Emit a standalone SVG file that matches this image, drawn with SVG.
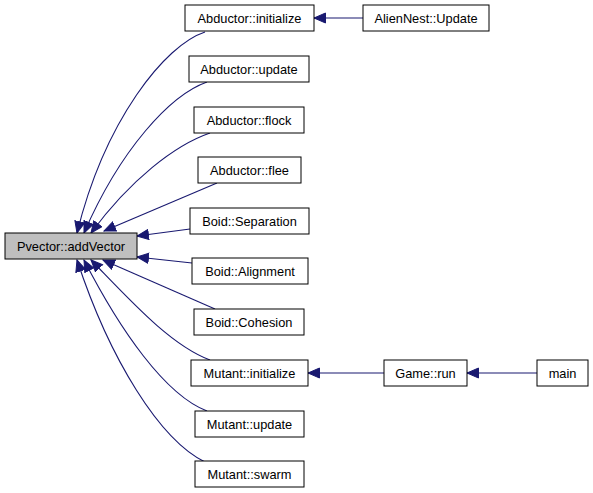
<svg xmlns="http://www.w3.org/2000/svg" width="593" height="493" viewBox="0 0 593 493">
<style>
.n rect{fill:#ffffff;stroke:#000000;stroke-width:1}
.n text{font-family:"Liberation Sans",Arial,sans-serif;font-size:12.8px;fill:#000000;text-anchor:middle}
#pvector rect{fill:#bfbfbf}
.e path{fill:none;stroke:#191970;stroke-width:1.1;marker-end:url(#ah)}
</style>
<defs>
<marker id="ah" markerWidth="13" markerHeight="12" refX="12" refY="6" orient="auto" markerUnits="userSpaceOnUse">
<path d="M0.5,1 L12,6 L0.5,11 Z" fill="#191970" stroke="#191970" stroke-width="1"/>
</marker>
</defs>
<rect width="593" height="493" fill="#ffffff"/>
<g id="edges" class="e">
<path d="M205,32 C165,45 105,120 77,233"/>
<path d="M207,82 C170,95 120,150 84,233"/>
<path d="M210,133 C175,145 130,180 91,233"/>
<path d="M217,183 L104,231"/>
<path d="M190,229 L137,236"/>
<path d="M192,263 L137,257"/>
<path d="M215,309 L103,260"/>
<path d="M210,360 C170,345 130,300 91,260"/>
<path d="M207,411 C165,395 120,330 84,260"/>
<path d="M205,462 C160,440 110,360 77,260"/>
<path d="M363,18 L314,18"/>
<path d="M384,373 L308,373"/>
<path d="M537,373 L467,373"/>
</g>
<g id="pvector" class="n"><rect x="5" y="233" width="132" height="26"/><text x="71" y="251">Pvector::addVector</text></g>
<g id="abductor_initialize" class="n"><rect x="185" y="5" width="129" height="26"/><text x="249.5" y="23">Abductor::initialize</text></g>
<g id="aliennest_update" class="n"><rect x="363" y="5" width="126" height="26"/><text x="426" y="23">AlienNest::Update</text></g>
<g id="abductor_update" class="n"><rect x="189" y="56" width="120" height="26"/><text x="249" y="74">Abductor::update</text></g>
<g id="abductor_flock" class="n"><rect x="194" y="107" width="110" height="26"/><text x="249" y="125">Abductor::flock</text></g>
<g id="abductor_flee" class="n"><rect x="198" y="157" width="103" height="26"/><text x="249.5" y="175">Abductor::flee</text></g>
<g id="boid_separation" class="n"><rect x="190" y="208" width="119" height="26"/><text x="249.5" y="226">Boid::Separation</text></g>
<g id="boid_alignment" class="n"><rect x="192" y="258" width="116" height="26"/><text x="250" y="276">Boid::Alignment</text></g>
<g id="boid_cohesion" class="n"><rect x="194" y="309" width="110" height="26"/><text x="249" y="327">Boid::Cohesion</text></g>
<g id="mutant_initialize" class="n"><rect x="191" y="360" width="117" height="26"/><text x="249.5" y="378">Mutant::initialize</text></g>
<g id="game_run" class="n"><rect x="384" y="360" width="83" height="26"/><text x="425.5" y="378">Game::run</text></g>
<g id="main" class="n"><rect x="537" y="360" width="51" height="26"/><text x="562.5" y="378">main</text></g>
<g id="mutant_update" class="n"><rect x="195" y="411" width="109" height="26"/><text x="249.5" y="429">Mutant::update</text></g>
<g id="mutant_swarm" class="n"><rect x="195" y="461" width="109" height="26"/><text x="249.5" y="479">Mutant::swarm</text></g>
</svg>
